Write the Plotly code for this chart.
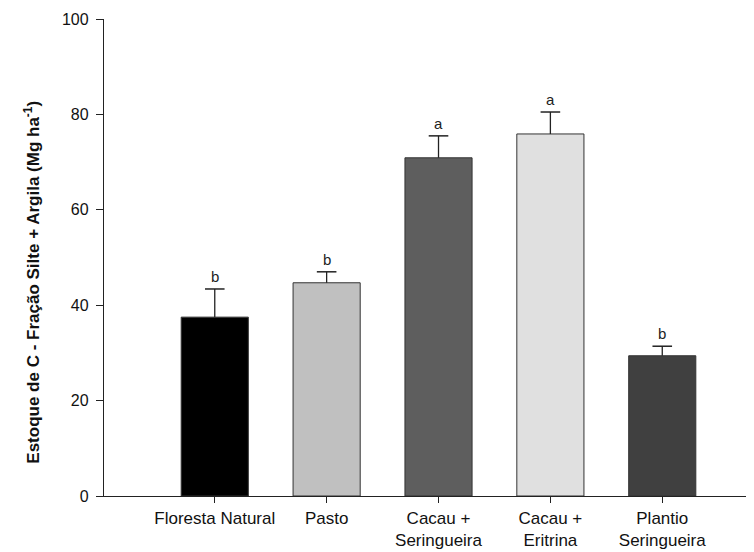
import plotly.graph_objects as go

categories = ["Floresta Natural", "Pasto", "Cacau +<br>Seringueira", "Cacau +<br>Eritrina", "Plantio<br>Seringueira"]
values = [37.5, 44.7, 70.9, 75.9, 29.4]
errors = [5.9, 2.3, 4.6, 4.6, 2.0]
letters = ["b", "b", "a", "a", "b"]
colors = ["#000000", "#c0c0c0", "#5e5e5e", "#e0e0e0", "#404040"]
yticks = [0, 20, 40, 60, 80, 100]

x = list(range(len(categories)))
FONT = "Liberation Sans, Arial"

fig = go.Figure()
fig.add_trace(go.Bar(
    x=x, y=values, width=0.6,
    marker=dict(color=colors, line=dict(color="#333333", width=1)),
    showlegend=False,
))

# one-sided error bars (stem + top cap only)
ex, ey = [], []
for xi, v, e in zip(x, values, errors):
    ex += [xi, xi, None]
    ey += [v, v + e, None]
fig.add_trace(go.Scatter(x=ex, y=ey, mode="lines", line=dict(color="#222222", width=1.3),
                         showlegend=False, hoverinfo="skip"))
fig.add_trace(go.Scatter(x=x, y=[v + e for v, e in zip(values, errors)], mode="markers",
                         marker=dict(symbol="line-ew", size=14, line=dict(color="#222222", width=1.5)),
                         showlegend=False, hoverinfo="skip"))

for xi, v, e, l in zip(x, values, errors, letters):
    fig.add_annotation(x=xi, y=v + e, text=l, showarrow=False, yanchor="bottom", yshift=2,
                       font=dict(family=FONT, size=15, color="#222222"))

fig.add_annotation(xref="paper", yref="paper", x=-0.111, y=0.449, textangle=-90,
                   text="<b>Estoque de C - Fração Silte + Argila (Mg ha<sup>-1</sup>)</b>",
                   showarrow=False, xanchor="center", yanchor="middle",
                   font=dict(family=FONT, size=17, color="#111111"))

fig.update_layout(
    width=754, height=552,
    margin=dict(l=96, r=8, t=11, b=64),
    plot_bgcolor="white", paper_bgcolor="white",
)
fig.update_xaxes(
    range=[-0.99, 4.82], tickmode="array", tickvals=x, ticktext=categories,
    showline=True, linecolor="#222222", linewidth=1.3, ticks="outside", ticklen=6,
    tickcolor="#222222", tickfont=dict(family=FONT, size=17, color="#111111"),
    showgrid=False, zeroline=False, automargin=False,
)
fig.update_yaxes(
    range=[0, 100], tickvals=yticks, showline=True, linecolor="#222222", linewidth=1.3,
    ticks="outside", ticklen=7, tickcolor="#222222", ticklabelstandoff=4,
    tickfont=dict(family=FONT, size=16, color="#111111"),
    showgrid=False, zeroline=False, automargin=False,
)

fig.write_html("out.html")
